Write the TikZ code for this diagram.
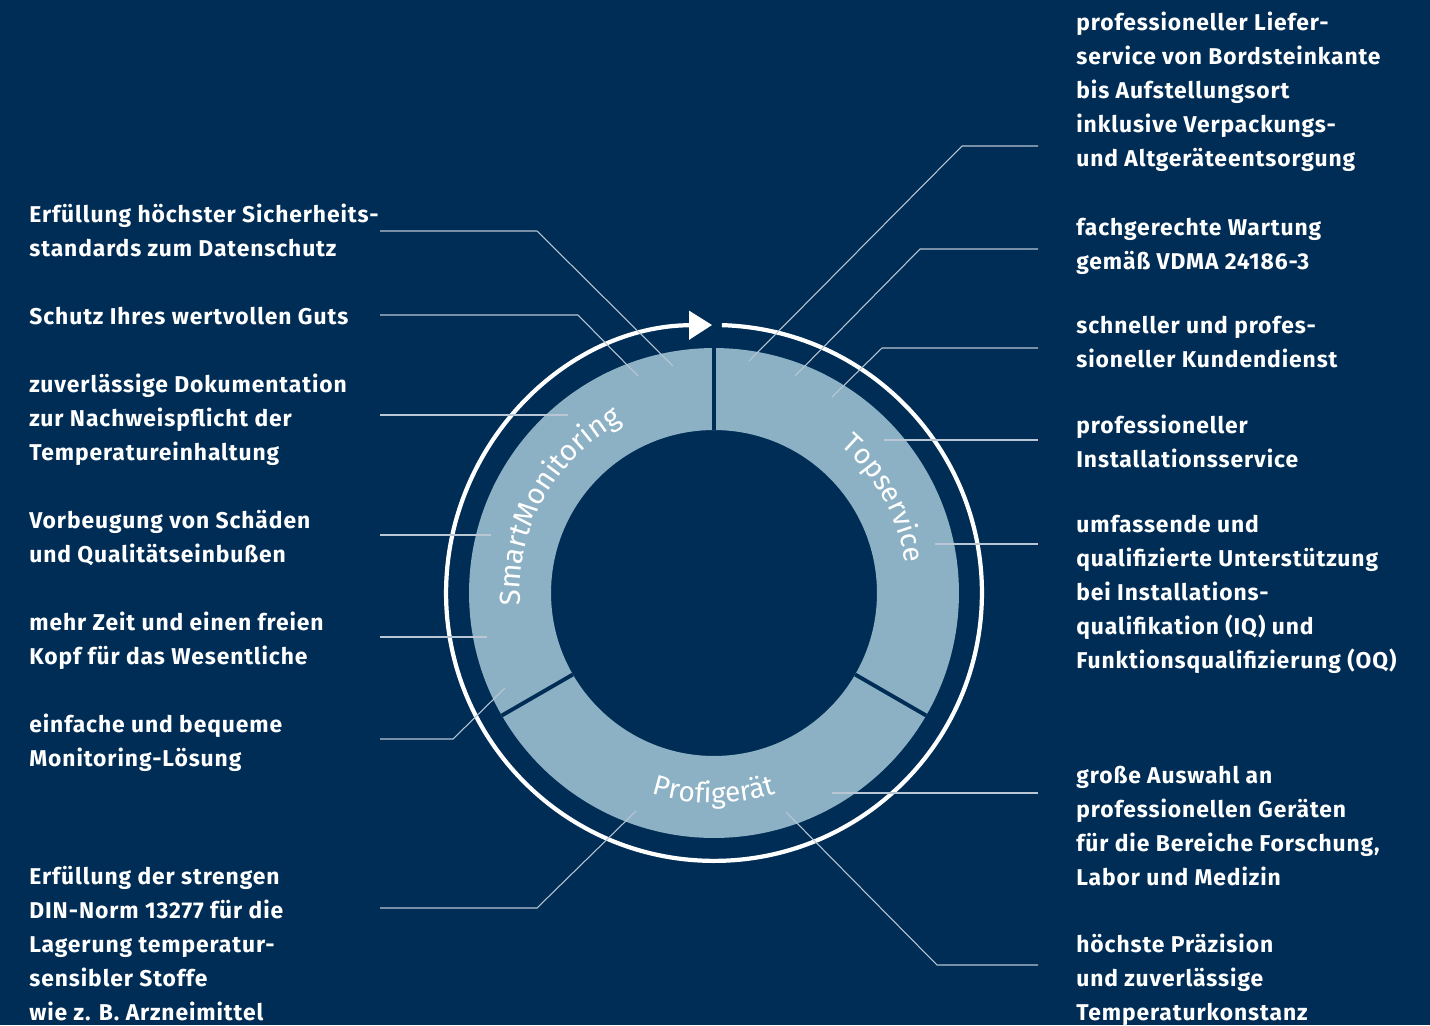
\documentclass[tikz,border=0pt]{standalone}
\usepackage{fontspec}
\setmainfont{Fira Sans}
\usetikzlibrary{arrows.meta,decorations.text}
\definecolor{navy}{RGB}{0,45,85}
\definecolor{ringblue}{RGB}{140,177,196}
\definecolor{leader}{RGB}{185,198,212}
\tikzset{
  txt/.style={anchor=north west, inner sep=0pt, align=left, text=white,
    font=\fontsize{13}{19.3}\selectfont\bfseries\addfontfeature{LetterSpace=4}, execute at begin node=\strut},
  leaderline/.style={draw=leader, line width=0.6pt},
  divider/.style={draw=navy, line width=2.2pt},
}
\begin{document}
\begin{tikzpicture}[x=0.02cm, y=0.02cm]
  \fill[navy] (0,0) rectangle (1430,-1025);
  \useasboundingbox (0,0) rectangle (1430,-1025);
  \coordinate (c) at (714,-593);

  \fill[ringblue, even odd rule] (c) circle[radius=4.9cm] (c) circle[radius=3.26cm];
  \foreach \a in {90,210,330}
    \draw[divider] ([shift={(\a:163)}]c) -- ([shift={(\a:245)}]c);

  \draw[white, line width=2.4pt, -{Triangle[length=0.46cm, width=0.56cm]}]
    ([shift={(88.3:268)}]c) arc[start angle=88.3, end angle=-269.6, radius=5.36cm];

  \path[decorate, decoration={text along path, text align=center,
      text={|\fontsize{16.5}{16.5}\selectfont\color{white}|SmartMonitoring}}]
    ([shift={(195:194)}]c) arc[start angle=195, end angle=107, radius=3.88cm];
  \path[decorate, decoration={text along path, text align=center,
      text={|\fontsize{16}{16}\selectfont\color{white}|Topservice}}]
    ([shift={(62:194)}]c) arc[start angle=62, end angle=-4, radius=3.88cm];
  \path[decorate, decoration={text along path, text align=center,
      text={|\fontsize{16}{16}\selectfont\color{white}|Profigerät}}]
    ([shift={(240:210)}]c) arc[start angle=240, end angle=300, radius=4.2cm];

  \node[txt] (l1) at (29,-204) {Erfüllung höchster Sicherheits-\\standards zum Datenschutz};
  \node[txt] (l2) at (29,-300) {Schutz Ihres wertvollen Guts};
  \node[txt] (l3) at (29,-374) {zuverlässige Dokumentation\\zur Nachweispflicht der\\Temperatureinhaltung};
  \node[txt] (l4) at (29,-510) {Vorbeugung von Schäden\\und Qualitätseinbußen};
  \node[txt] (l5) at (29,-612) {mehr Zeit und einen freien\\Kopf für das Wesentliche};
  \node[txt] (l6) at (29,-714) {einfache und bequeme\\Monitoring-Lösung};
  \node[txt] (l7) at (29,-866) {Erfüllung der strengen\\DIN-Norm 13277 für die\\Lagerung temperatur-\\sensibler Stoffe\\wie z. B. Arzneimittel};

  \node[txt] (r1) at (1076,-12) {professioneller Liefer-\\service von Bordsteinkante\\bis Aufstellungsort\\inklusive Verpackungs-\\und Altgeräteentsorgung};
  \node[txt] (r2) at (1076,-218) {fachgerechte Wartung\\gemäß VDMA 24186-3};
  \node[txt] (r3) at (1076,-316) {schneller und profes-\\sioneller Kundendienst};
  \node[txt] (r4) at (1076,-415) {professioneller\\Installationsservice};
  \node[txt] (r5) at (1076,-515) {umfassende und\\qualifizierte Unterstützung\\bei Installations-\\qualifikation (IQ) und\\Funktionsqualifizierung (OQ)};
  \node[txt] (r6) at (1076,-766) {große Auswahl an\\professionellen Geräten\\für die Bereiche Forschung,\\Labor und Medizin};
  \node[txt] (r7) at (1076,-934) {höchste Präzision\\und zuverlässige\\Temperaturkonstanz};

  \coordinate (l1a) at (380,-231); \coordinate (l1b) at (673,-366);
  \coordinate (l2a) at (380,-315); \coordinate (l2b) at (638,-376);
  \coordinate (l3a) at (380,-415); \coordinate (l3b) at (568,-415);
  \coordinate (l4a) at (380,-535); \coordinate (l4b) at (491,-535);
  \coordinate (l5a) at (380,-637); \coordinate (l5b) at (487,-637);
  \coordinate (l6a) at (380,-739); \coordinate (l6b) at (505,-688);
  \coordinate (l7a) at (380,-908); \coordinate (l7b) at (636,-811);
  \coordinate (r1a) at (1038,-146); \coordinate (r1b) at (749,-361);
  \coordinate (r2a) at (1038,-249); \coordinate (r2b) at (795,-376);
  \coordinate (r3a) at (1038,-348); \coordinate (r3b) at (832,-397);
  \coordinate (r4a) at (1038,-440); \coordinate (r4b) at (884,-440);
  \coordinate (r5a) at (1038,-544); \coordinate (r5b) at (935,-544);
  \coordinate (r6a) at (1038,-793); \coordinate (r6b) at (832,-793);
  \coordinate (r7a) at (1038,-965); \coordinate (r7b) at (786,-812);

  \draw[leaderline] (l1a) -- ++(157,0) -- (l1b);
  \draw[leaderline] (l2a) -- ++(198,0) -- (l2b);
  \draw[leaderline] (l3a) -- (l3b);
  \draw[leaderline] (l4a) -- (l4b);
  \draw[leaderline] (l5a) -- (l5b);
  \draw[leaderline] (l6a) -- ++(73,0) -- (l6b);
  \draw[leaderline] (l7a) -- ++(157,0) -- (l7b);
  \draw[leaderline] (r1a) -- ++(-76,0) -- (r1b);
  \draw[leaderline] (r2a) -- ++(-118,0) -- (r2b);
  \draw[leaderline] (r3a) -- ++(-156,0) -- (r3b);
  \draw[leaderline] (r4a) -- (r4b);
  \draw[leaderline] (r5a) -- (r5b);
  \draw[leaderline] (r6a) -- (r6b);
  \draw[leaderline] (r7a) -- ++(-101,0) -- (r7b);
\end{tikzpicture}
\end{document}
